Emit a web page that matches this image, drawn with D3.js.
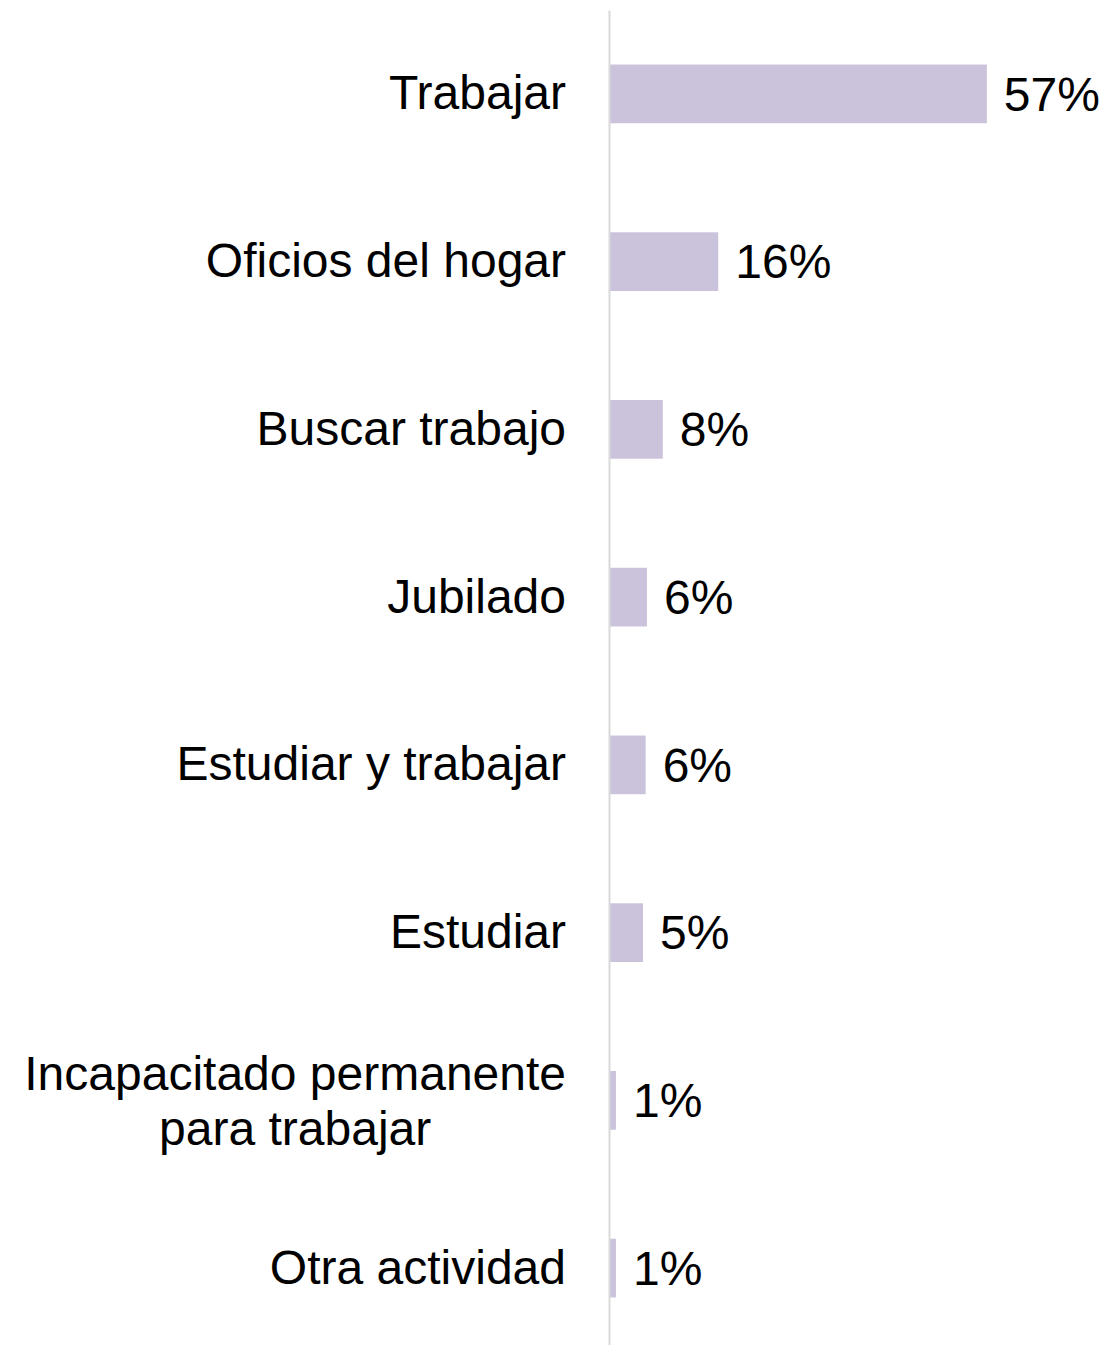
<!DOCTYPE html>
<html>
<head>
  <meta charset="utf-8">
  <style>
    body {
        margin: 0;
        background: #fff;
    }
    svg text {
        font-family: "Liberation Sans", Arial, Helvetica, sans-serif;
        fill: #000;
    }
  </style>
</head>
<body>
  <script src="https://cdn.jsdelivr.net/npm/d3@7"></script>
  <script>
    // data (bar lengths in %, labels as printed)
    var categories = ["Trabajar", "Oficios del hogar", "Buscar trabajo", "Jubilado",
                      "Estudiar y trabajar", "Estudiar",
                      "Incapacitado permanente\npara trabajar", "Otra actividad"]
    var values = [57.1, 16.4, 8.0, 5.6, 5.4, 5.0, 0.9, 0.9]
    var valueLabels = ["57%", "16%", "8%", "6%", "6%", "5%", "1%", "1%"]

    var w = 1111
    var h = 1345
    var axisX = 609
    var fontSize = 48

    var data = categories.map(function(c, i) {
      return { cat: c, value: values[i], label: valueLabels[i] }
    })

    var svg = d3.select("body")
                .append("svg")
                .attr("width", w)
                .attr("height", h)

    // scales
    var x = d3.scaleLinear()
              .domain([0, 60])
              .range([axisX + 1, axisX + 1 + 396])

    var y = d3.scaleBand()
              .domain(categories)
              .range([10, 1352])
              .paddingInner(0.65)
              .paddingOuter(0.325)

    // bars
    svg.selectAll("rect.bar")
        .data(data)
        .enter()
        .append("rect")
        .attr("class", "bar")
        .attr("x", x(0))
        .attr("y", function(d) { return y(d.cat) })
        .attr("width", function(d) { return x(d.value) - x(0) })
        .attr("height", y.bandwidth())
        .attr("fill", "#cbc3dc")

    // value labels
    svg.selectAll("text.val")
        .data(data)
        .enter()
        .append("text")
        .attr("class", "val")
        .attr("x", function(d) { return x(d.value) + 17 })
        .attr("y", function(d) { return y(d.cat) + y.bandwidth() / 2 })
        .attr("dy", "0.35em")
        .attr("font-size", fontSize)
        .text(function(d) { return d.label })

    // category axis
    var yAxis = d3.axisLeft(y)
                  .tickSize(0)
                  .tickSizeOuter(0)
                  .tickPadding(43)

    var gAxis = svg.append("g")
        .attr("transform", "translate(" + axisX + ",0)")
        .call(yAxis)

    gAxis.select(".domain")
        .attr("stroke", "#d9d9d9")
        .attr("stroke-width", 2)

    gAxis.selectAll(".tick text")
        .attr("font-size", fontSize)
        .attr("font-family", null)
        .attr("fill", "#000")
        .each(function(d) {
          var lines = d.split("\n")
          if (lines.length < 2) return
          var t = d3.select(this)
          t.text(null)
          var lineH = 55
          var spans = lines.map(function(s, i) {
            return t.append("tspan")
                    .attr("x", -43)
                    .attr("y", (i - (lines.length - 1) / 2) * lineH)
                    .attr("dy", "0.35em")
                    .text(s)
          })
          var maxW = d3.max(spans, function(s) { return s.node().getComputedTextLength() })
          t.attr("text-anchor", "middle")
          spans.forEach(function(s) { s.attr("x", -43 - maxW / 2) })
        })
  </script>
</body>
</html>
